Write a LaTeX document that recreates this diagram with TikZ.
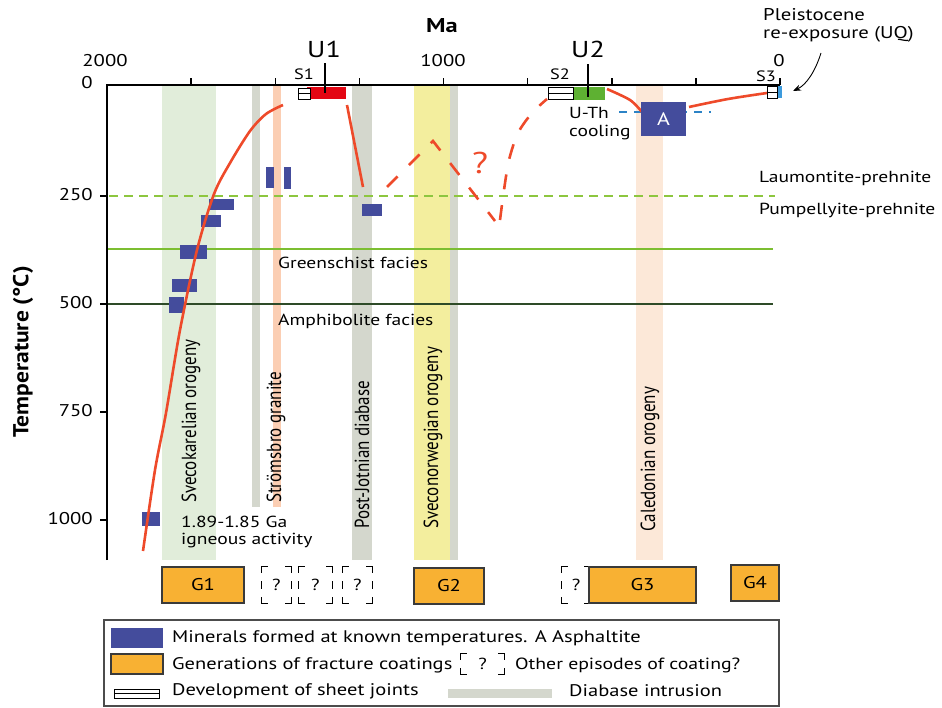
\documentclass[tikz,border=0pt]{standalone}
\usepackage{fontspec}
\setmainfont{PT Sans}[FakeStretch=1.22]
\newfontfamily\rotfont{PT Sans}
\usetikzlibrary{arrows.meta}
\definecolor{bandgreen}{HTML}{E1EDDA}
\definecolor{bandgrey}{HTML}{D4D7CD}
\definecolor{bandsalmon}{HTML}{FBCEB3}
\definecolor{bandyellow}{HTML}{F3EE9E}
\definecolor{bandcal}{HTML}{FCE8D8}
\definecolor{minblue}{HTML}{444C9C}
\definecolor{gorange}{HTML}{F8B133}
\definecolor{gborder}{HTML}{3A3A3A}
\definecolor{uone}{HTML}{E30613}
\definecolor{utwo}{HTML}{5EB132}
\definecolor{curvered}{HTML}{EE4A2A}
\definecolor{dashgreen}{HTML}{8DC63F}
\definecolor{linegreen}{HTML}{7CBE31}
\definecolor{darkgreen}{HTML}{2E4B28}
\definecolor{dashblue}{HTML}{2C83C6}
\definecolor{patchblue}{HTML}{3D9BDD}
\newcommand\qcorners[1]{%
  \draw[qline] (#1.north west) ++(0,6) -- ++(0,-6) -- ++(6,0);
  \draw[qline] (#1.north east) ++(-6,0) -- ++(6,0) -- ++(0,6);
  \draw[qline] (#1.south west) ++(0,-6) -- ++(0,6) -- ++(6,0);
  \draw[qline] (#1.south east) ++(-6,0) -- ++(6,0) -- ++(0,-6);}
\newcommand\qmids[1]{%
  \draw[qline] (#1.west) ++(0,-4) -- ++(0,8);
  \draw[qline] (#1.east) ++(0,-4) -- ++(0,8);}
\newcommand\thick[1]{\scalebox{1}[1.2]{#1}}
\begin{document}
\begin{tikzpicture}[x=1pt,y=-1pt,
  lbl/.style={inner sep=0pt, font=\fontsize{16}{19}\selectfont},
  leglbl/.style={inner sep=0pt, anchor=west, font=\fontsize{16.8}{19}\selectfont},
  axlbl/.style={inner sep=0pt, font=\fontsize{17}{20}\selectfont},
  rlbl/.style={inner sep=0pt, rotate=90, anchor=west, font=\rotfont\fontsize{17}{20}\selectfont},
  mineral/.style={fill=minblue},
  redcurve/.style={draw=curvered, line width=2.6pt},
  reddash/.style={draw=curvered, line width=2.6pt, dash pattern=on 15pt off 16pt},
  sheet/.style={draw=black, fill=white, line width=1pt},
  gbox/.style={draw=gborder, fill=gorange, line width=1.3pt, inner sep=0pt, font=\fontsize{17}{20}\selectfont},
  qbox/.style={inner sep=0pt, font=\fontsize{16}{19}\selectfont},
  qline/.style={draw=black, line width=1.3pt},
]
\useasboundingbox (0,0) rectangle (942,707);

% vertical bands
\fill[bandgreen] (162,86) rectangle (216,560);
\fill[bandgrey] (252,86) rectangle (260,507);
\fill[bandsalmon] (273,86) rectangle (281,507);
\fill[bandgrey] (352,86) rectangle (372,560);
\fill[bandyellow] (414,86) rectangle (450,560);
\fill[bandgrey] (450,86) rectangle (458,560);
\fill[bandcal] (636,86) rectangle (663,560);

% facies lines
\draw[dashgreen, line width=1.8pt, dash pattern=on 9pt off 6pt] (109,196) -- (775,196);
\draw[linegreen, line width=1.8pt] (107,249) -- (773,249);
\draw[darkgreen, line width=1.5pt] (107,304) -- (773,304);

% axes
\draw[line width=1.5pt] (107,560) -- (107,85) -- (780,85);
\foreach \m in {1750,1500,1250,1000,750,500,250,0}
  \draw[line width=1.5pt] ({107+0.3365*(2000-\m)},85) -- ++(0,-7);
\foreach \t in {250,500,750,1000}
  \draw[line width=1.5pt] (100,{88+0.432*\t}) -- (107,{88+0.432*\t});

% axis labels
\node[axlbl, anchor=east] (t0) at (93,83) {0};
\node[axlbl, anchor=east] (t250) at (93,195) {250};
\node[axlbl, anchor=east] (t500) at (93,303) {500};
\node[axlbl, anchor=east] (t750) at (93,411) {750};
\node[axlbl, anchor=east] (t1000) at (93,519) {1000};
\node[axlbl] (m2000) at (105,61) {2000};
\node[axlbl] (m1000) at (443,61) {1000};
\node[axlbl] (m0) at (779,61) {0};
\node[inner sep=0pt, font=\bfseries\fontsize{20}{24}\selectfont] (ma) at (442,26) {Ma};
\node[inner sep=0pt, rotate=90, font=\rotfont\bfseries\fontsize{23.5}{26}\selectfont] (ylab) at (23,352) {\scalebox{1}[0.92]{Temperature (°C)}};

% facies labels
\node[lbl, anchor=west] (lau) at (759,178) {Laumontite-prehnite};
\node[lbl, anchor=west] (pum) at (759,210) {Pumpellyite-prehnite};
\node[lbl, anchor=west] (gre) at (278,263) {Greenschist facies};
\node[lbl, anchor=west] (amp) at (278,321) {Amphibolite facies};

% rotated band labels
\node[rlbl] (svk) at (191,503) {\thick{Svecokarelian orogeny}};
\node[rlbl] (str) at (276,503) {\thick{Strömsbro granite}};
\node[rlbl] (pjd) at (362,529) {\thick{Post-Jotnian diabase}};
\node[rlbl] (svn) at (433,529) {\thick{Sveconorwegian orogeny}};
\node[rlbl] (cal) at (650,532) {\thick{Caledonian orogeny}};

\node[lbl, anchor=west] (ign1) at (181,522) {1.89-1.85 Ga};
\node[lbl, anchor=west] (ign2) at (181,541) {igneous activity};

% minerals
\fill[mineral] (266,167) rectangle (274,188);
\fill[mineral] (284,167) rectangle (291,189);
\fill[mineral] (209,199) rectangle (234,210);
\fill[mineral] (201,215) rectangle (221,227);
\fill[mineral] (180,245) rectangle (207,259);
\fill[mineral] (172,279) rectangle (197,292);
\fill[mineral] (169,297) rectangle (184,313);
\fill[mineral] (362,204) rectangle (382,216);
\fill[mineral] (142,512) rectangle (160,526);

% red curves
\draw[redcurve] plot[smooth] coordinates {(143,551) (155,470) (166,413) (180,330) (197,250) (214,194) (230,163) (250,131) (266,114) (283,105)};
\draw[redcurve] (347,105) -- (363,187);
\draw[reddash] (387,187) -- (433,141) -- (495,221);
\draw[reddash] plot[smooth] coordinates {(500,220) (504,190) (509,160) (518,133) (532,113) (547,99)};
\node[inner sep=0pt, text=curvered, font=\fontsize{30}{34}\selectfont] (qmark) at (480,163) {?};

% U1 / S1
\fill[uone] (307,87) rectangle (346,99);
\draw[sheet] (298,88) rectangle (310,99);
\draw[line width=1pt] (298,93.5) -- (310,93.5);
\draw[line width=1.5pt] (325,63) -- (325,93);
\node[inner sep=0pt, font=\fontsize{23}{26}\selectfont] (u1) at (324,49) {U1};
\node[inner sep=0pt, font=\fontsize{15}{18}\selectfont] (s1) at (304,74) {S1};

% U2 / S2
\fill[utwo] (574,87) rectangle (605,100);
\draw[sheet] (548,87) rectangle (573,99);
\draw[line width=1pt] (548,93) -- (573,93);
\draw[line width=1.5pt] (588,64) -- (588,97);
\node[inner sep=0pt, font=\fontsize{23}{26}\selectfont] (u2) at (588,49) {U2};
\node[inner sep=0pt, font=\fontsize{15}{18}\selectfont] (s2) at (560,74) {S2};
\node[lbl, anchor=west] (uth) at (569,113) {U-Th};
\node[lbl, anchor=west] (cool) at (569,133) {cooling};

% asphaltite
\draw[dashblue, line width=1.8pt, dash pattern=on 8pt off 7pt] (619,112) -- (711,112);
\draw[redcurve] plot[smooth] coordinates {(607,89) (630,100) (642,112)};
\node[fill=minblue, minimum width=45pt, minimum height=34pt, inner sep=0pt, text=white, font=\fontsize{18}{21}\selectfont] (boxA) at (663.5,119) {A};
\draw[redcurve] plot[smooth] coordinates {(689,107) (728,99) (767,93)};

% S3
\node[fill=patchblue, minimum width=5pt, minimum height=12pt, inner sep=0pt] (s3patch) at (779.5,92) {};
\draw[sheet] (767,86) rectangle (777,98);
\draw[line width=1pt] (767,92) -- (777,92);
\node[inner sep=0pt, font=\fontsize{15}{18}\selectfont] (s3) at (766,76) {S3};

% Pleistocene
\node[axlbl, anchor=west] (pl1) at (763,15) {Pleistocene};
\node[axlbl, anchor=west] (pl2) at (763,34) {re-exposure (UQ)};
\coordinate (arrstart) at (821,53);
\coordinate (arrend) at (793,91);
\draw[line width=0.9pt, -{Stealth[length=8pt,width=6pt]}] (arrstart) .. controls (815,72) and (806,85) .. (arrend);

% generations
\node[gbox, minimum width=82pt, minimum height=36pt] (g1) at (203,585) {G1};
\node[qbox, minimum width=29pt, minimum height=36pt] (q1) at (276.5,585) {?};
\node[qbox, minimum width=33pt, minimum height=36pt] (q2) at (315.5,585) {?};
\node[qbox, minimum width=29pt, minimum height=36pt] (q3) at (357.5,585) {?};
\qcorners{q1}\qmids{q1}
\qcorners{q2}\qmids{q2}
\qcorners{q3}\qmids{q3}
\node[gbox, minimum width=70pt, minimum height=36pt] (g2) at (449,586) {G2};
\node[qbox, minimum width=28pt, minimum height=36pt] (q4) at (576,585) {?};
\qcorners{q4}\qmids{q4}
\node[gbox, minimum width=107pt, minimum height=36pt] (g3) at (642.5,585) {G3};
\node[gbox, minimum width=48pt, minimum height=36pt] (g4) at (755,583) {G4};

% legend
\draw[draw=black!70, line width=1.2pt] (104,620) rectangle (779,706);
\fill[minblue] (111,628) rectangle (163,648);
\node[leglbl] (leg1) at (172,638) {Minerals formed at known temperatures. A Asphaltite};
\draw[draw=gborder, fill=gorange, line width=1.3pt] (111,654) rectangle (163,674);
\node[leglbl] (leg2) at (172,665) {Generations of fracture coatings};
\node[qbox, minimum width=43pt, minimum height=20pt] (lq) at (482.5,664) {?};
\qcorners{lq}
\node[leglbl, font=\fontsize{16.2}{19}\selectfont] (leg3) at (515,665) {Other episodes of coating?};
\draw[sheet] (114,689) rectangle (159,698);
\draw[line width=1pt] (114,693.5) -- (159,693.5);
\node[leglbl] (leg4) at (172,691) {Development of sheet joints};
\fill[bandgrey] (448,689) rectangle (552,698);
\node[leglbl] (leg5) at (569,691) {Diabase intrusion};
\end{tikzpicture}
\end{document}
